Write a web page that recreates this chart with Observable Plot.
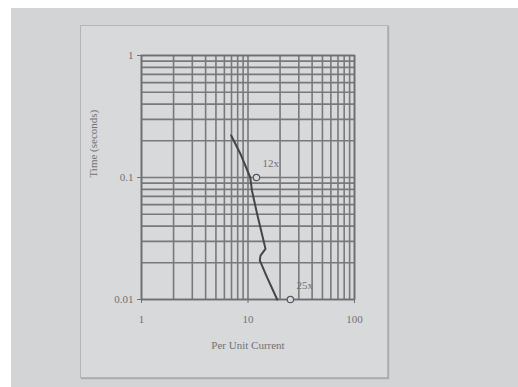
<!DOCTYPE html>
<html>
<head>
<meta charset="utf-8">
<script src="https://cdn.jsdelivr.net/npm/d3@7"></script>
<script src="https://cdn.jsdelivr.net/npm/@observablehq/plot@0.6"></script>
<style>
  html, body { margin: 0; padding: 0; background: #ffffff; width: 518px; height: 387px; overflow: hidden; }
  #bg { position: absolute; left: 11px; top: 8px; width: 507px; height: 379px; background: #d3d4d6; }
  #panel { position: absolute; left: 80px; top: 25px; width: 306px; height: 351px;
           background: #d8d9db; border: 1px solid #b4b5b7; box-shadow: 1px 1px 1px #a9aaac; }
  #chart { position: absolute; left: 80px; top: 25px; }
</style>
</head>
<body>
<div id="bg"></div>
<div id="panel"></div>
<div id="chart"></div>
<script>
// Tick values
const xTicks = [1, 10, 100];
const yTicks = [0.01, 0.1, 1];
// Log grid lines
const xGrid = [1,2,3,4,5,6,7,8,9,10,20,30,40,50,60,70,80,90,100];
const yGrid = [0.01,0.02,0.03,0.04,0.05,0.06,0.07,0.08,0.09,0.1,0.2,0.3,0.4,0.5,0.6,0.7,0.8,0.9,1];
// Curve (Per Unit Current vs Time)
const curveX = [6.95, 8.5, 10.5, 10.9, 12.2, 13.5, 14.6, 13.1, 12.9, 15.1, 18.8];
const curveY = [0.221, 0.156, 0.1, 0.078, 0.05, 0.0346, 0.026, 0.0229, 0.0209, 0.0152, 0.01];
// Marked points
const markX = [12, 25];
const markY = [0.1, 0.01];
const markLabels = ["12x", "25x"];

const curve = curveX.map((x, i) => ({x, y: curveY[i]}));
const marks = markX.map((x, i) => ({x, y: markY[i], label: markLabels[i]}));

const ink = "#717274";
const chart = Plot.plot({
  width: 308,
  height: 353,
  marginLeft: 61,
  marginRight: 34,
  marginTop: 30,
  marginBottom: 79,
  style: { fontFamily: "Liberation Serif", fontSize: "11px", color: ink, background: "transparent" },
  x: { type: "log", domain: [1, 100] },
  y: { type: "log", domain: [0.01, 1] },
  marks: [
    Plot.ruleX(xGrid, { stroke: "#78797b", strokeWidth: 1.6 }),
    Plot.ruleY(yGrid, { stroke: "#78797b", strokeWidth: 1.7 }),
    Plot.axisX({ ticks: xTicks, tickFormat: d => String(d), tickSize: 4, tickPadding: 12, stroke: ink, label: null }),
    Plot.axisY({ ticks: yTicks, tickFormat: d => String(d), tickSize: 4, tickPadding: 4, stroke: ink, label: null }),
    Plot.frame({ stroke: "#6e6f71", strokeWidth: 1.6 }),
    Plot.line(curve, { x: "x", y: "y", stroke: "#454648", strokeWidth: 2 }),
    Plot.dot(marks, { x: "x", y: "y", r: 3.2, stroke: "#58595b", strokeWidth: 1.2, fill: "#d8d9db" }),
    Plot.text(marks, { x: "x", y: "y", text: "label", textAnchor: "start", dx: 6, dy: -14, fill: ink }),
    Plot.text(["Per Unit Current"], { frameAnchor: "bottom", dy: 49, fill: ink }),
    Plot.text(["Time (seconds)"], { frameAnchor: "left", dx: -48, rotate: -90, fill: ink })
  ]
});
document.getElementById("chart").appendChild(chart);
</script>
</body>
</html>
